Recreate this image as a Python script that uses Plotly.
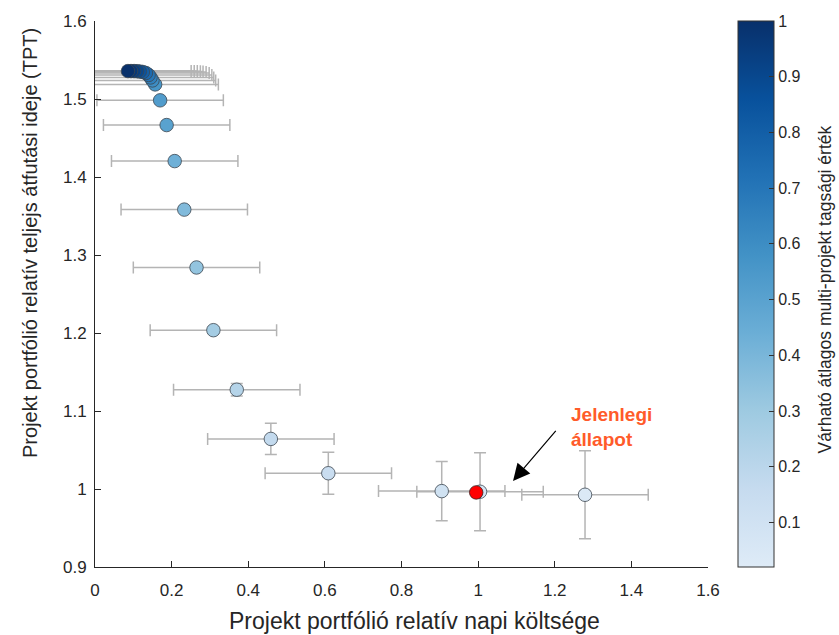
import plotly.graph_objects as go

# Data
cost = [1.279, 1.005, 0.905, 0.609, 0.459, 0.370, 0.309, 0.265, 0.233, 0.208, 0.187, 0.170,
        0.157, 0.150, 0.145, 0.140, 0.133, 0.125, 0.117, 0.110, 0.102, 0.094, 0.086]
tpt = [0.9926, 0.9965, 0.9973, 1.0202, 1.0642, 1.1273, 1.2036, 1.284, 1.3582, 1.4204, 1.4666, 1.4983,
       1.5187, 1.5238, 1.5276, 1.5308, 1.5333, 1.5346, 1.5352, 1.5356, 1.5358, 1.5358, 1.5358]
cost_err = [0.165] * len(cost)
tpt_err = [0.0565, 0.050, 0.038, 0.027, 0.020, 0.008, 0.004, 0.003, 0.002, 0.002, 0.001, 0.001,
           0.0, 0.0, 0.0, 0.0, 0.0, 0.0, 0.0, 0.0, 0.0, 0.0, 0.0]
membership = [0.04, 0.07, 0.10, 0.14, 0.17, 0.22, 0.28, 0.33, 0.38, 0.43, 0.50, 0.53,
              0.56, 0.60, 0.65, 0.70, 0.75, 0.80, 0.85, 0.90, 0.94, 0.97, 1.0]
current_x = [0.995]
current_y = [0.9956]

cb_ticks = [0.1, 0.2, 0.3, 0.4, 0.5, 0.6, 0.7, 0.8, 0.9, 1]
x_ticks = [0, 0.2, 0.4, 0.6, 0.8, 1, 1.2, 1.4, 1.6]
y_ticks = [0.9, 1, 1.1, 1.2, 1.3, 1.4, 1.5, 1.6]

blues = [[0.0, "#deebf7"], [1/7, "#c6dbef"], [2/7, "#9ecae1"], [3/7, "#6baed6"],
         [4/7, "#4292c6"], [5/7, "#2171b5"], [6/7, "#08519c"], [1.0, "#08306b"]]

font_family = "Liberation Sans, Arial, sans-serif"
axis_col = "#262626"


def fmt(v):
    return ("%g" % v)


fig = go.Figure()
fig.add_trace(go.Scatter(
    x=cost, y=tpt, mode="markers",
    error_x=dict(type="data", array=cost_err, color="#b4b4b4", thickness=1.5, width=6),
    error_y=dict(type="data", array=tpt_err, color="#b4b4b4", thickness=1.5, width=6),
    marker=dict(size=13.5, color=membership, colorscale=blues, cmin=0.02, cmax=1.0,
                line=dict(color="#3c4650", width=0.8),
                showscale=True,
                colorbar=dict(
                    x=1.049, xanchor="left", xpad=0, y=0.5, yanchor="middle", ypad=0,
                    len=1.0, lenmode="fraction", thickness=36,
                    outlinecolor="#333333", outlinewidth=1,
                    ticks="inside", ticklen=5, tickcolor="#333333",
                    tickvals=cb_ticks, ticktext=[fmt(v) for v in cb_ticks],
                    tickfont=dict(family=font_family, size=16, color=axis_col),
                )),
    showlegend=False, hoverinfo="skip",
))
fig.add_trace(go.Scatter(
    x=current_x, y=current_y, mode="markers",
    marker=dict(size=13.5, color="#ff0000", line=dict(color="#3a2020", width=0.8)),
    showlegend=False, hoverinfo="skip",
))

fig.add_annotation(x=1.091, y=1.0104, ax=1.206, ay=1.0765, xref="x", yref="y",
                   axref="x", ayref="y", text="", showarrow=True,
                   arrowhead=2, arrowsize=2.8, arrowwidth=1.2, arrowcolor="#000000")
fig.add_annotation(x=1.238, y=1.080, xref="x", yref="y", text="<b>Jelenlegi<br>állapot</b>",
                   showarrow=False, xanchor="left", yanchor="middle", align="left",
                   font=dict(family=font_family, size=19, color="#ff5b2a"))

# plot area: x 95..708 px, y 16..567 px
pw, ph = 613.0, 551.0
# axis titles placed as annotations (paper coords)
fig.add_annotation(x=(414 - 95) / pw, y=-(621 - 567) / ph, xref="paper", yref="paper",
                   text="Projekt portfólió relatív napi költsége", showarrow=False,
                   xanchor="center", yanchor="middle",
                   font=dict(family=font_family, size=23, color=axis_col))
fig.add_annotation(x=-(95 - 30) / pw, y=(567 - 240) / ph, xref="paper", yref="paper",
                   text="Projekt portfólió relatív teljejs átfutási ideje (TPT)", showarrow=False,
                   textangle=-90, xanchor="center", yanchor="middle",
                   font=dict(family=font_family, size=20, color=axis_col))
fig.add_annotation(x=(825 - 95) / pw, y=(567 - 287) / ph, xref="paper", yref="paper",
                   text="Várható átlagos multi-projekt tagsági érték", showarrow=False,
                   textangle=-90, xanchor="center", yanchor="middle",
                   font=dict(family=font_family, size=17.5, color=axis_col))

fig.update_layout(
    width=839, height=635,
    margin=dict(l=95, r=131, t=16, b=68),
    paper_bgcolor="white", plot_bgcolor="white",
    font=dict(family=font_family, color=axis_col),
)
fig.update_xaxes(range=[0, 1.6], tickvals=x_ticks, ticktext=[fmt(v) for v in x_ticks],
                 showgrid=False, zeroline=False, showline=True, linecolor=axis_col, linewidth=1,
                 ticks="inside", ticklen=6, tickcolor=axis_col, ticklabelstandoff=8,
                 tickfont=dict(family=font_family, size=17, color=axis_col))
fig.update_yaxes(range=[0.9, 1.6], tickvals=y_ticks, ticktext=[fmt(v) for v in y_ticks],
                 showgrid=False, zeroline=False, showline=True, linecolor=axis_col, linewidth=1,
                 ticks="inside", ticklen=6, tickcolor=axis_col, ticklabelstandoff=4,
                 tickfont=dict(family=font_family, size=17, color=axis_col))

fig.write_html("out.html")
